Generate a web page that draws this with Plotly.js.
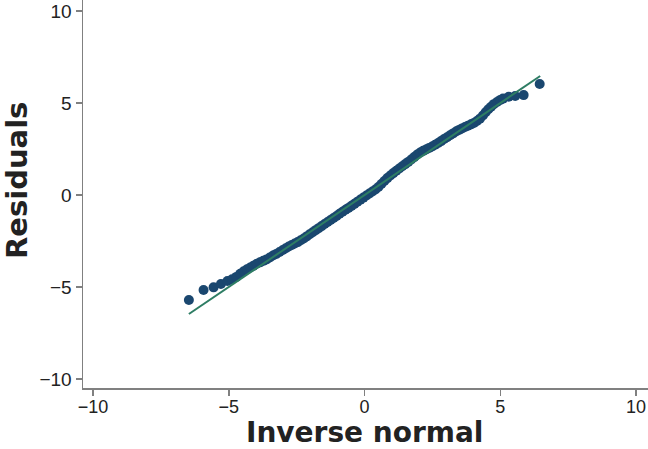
<!DOCTYPE html>
<html>
<head>
<meta charset="utf-8">
<script src="https://cdn.plot.ly/plotly-3.0.1.min.js"></script>
<style>html,body{margin:0;padding:0;background:#fff;}#chart{width:648px;height:449px;}</style>
</head>
<body>
<div id="chart"></div>
<script>
// Inverse normal quantiles (x) and sorted residuals (y)
var invNormal = [-6.47,-5.93,-5.56,-5.29,-5.05,-4.88,-4.72,-4.58,-4.45,-4.33,-4.21,-4.09,-3.97,-3.85,-3.73,-3.61,-3.49,-3.37,-3.25,-3.13,-3.01,-2.90,-2.79,-2.68,-2.57,-2.46,-2.35,-2.24,-2.13,-2.02,-1.91,-1.80,-1.69,-1.58,-1.47,-1.36,-1.25,-1.14,-1.03,-0.92,-0.81,-0.70,-0.59,-0.48,-0.37,-0.26,-0.15,-0.04,0.07,0.18,0.29,0.40,0.51,0.62,0.73,0.84,0.95,1.06,1.17,1.28,1.39,1.50,1.61,1.72,1.83,1.94,2.05,2.16,2.27,2.38,2.49,2.60,2.71,2.82,2.93,3.04,3.15,3.26,3.37,3.48,3.59,3.70,3.81,3.92,4.03,4.14,4.25,4.36,4.46,4.56,4.66,4.76,4.88,5.00,5.10,5.31,5.55,5.86,6.45];
var residuals = [-5.71,-5.16,-5.02,-4.84,-4.67,-4.58,-4.45,-4.28,-4.14,-4.04,-3.94,-3.84,-3.74,-3.66,-3.58,-3.50,-3.40,-3.29,-3.20,-3.10,-2.99,-2.89,-2.80,-2.72,-2.64,-2.56,-2.46,-2.36,-2.25,-2.13,-2.02,-1.91,-1.80,-1.69,-1.58,-1.47,-1.36,-1.25,-1.14,-1.02,-0.91,-0.80,-0.70,-0.59,-0.48,-0.36,-0.25,-0.14,-0.03,0.08,0.19,0.30,0.44,0.60,0.76,0.92,1.06,1.19,1.32,1.44,1.56,1.68,1.80,1.93,2.06,2.20,2.31,2.40,2.48,2.56,2.64,2.73,2.83,2.93,3.04,3.14,3.25,3.35,3.45,3.54,3.62,3.70,3.77,3.84,3.92,4.02,4.15,4.32,4.50,4.66,4.80,4.94,5.06,5.17,5.24,5.34,5.38,5.43,6.03];
// Reference line
var refX = [-6.47, 6.47];
var refY = [-6.47, 6.47];
var tickVals = [-10, -5, 0, 5, 10];
var tickText = ["\u221210", "\u22125", "0", "5", "10"];
var xTitle = "Inverse normal";
var yTitle = "Residuals";

var fam = "Liberation Sans, Arial, sans-serif";
var axisFont = {family: fam, size: 19, color: "#222"};
var xTickFont = {family: fam, size: 18, color: "#222"};
var titleFont = {family: "DejaVu Sans, sans-serif", size: 29, color: "#222", weight: "bold"};
var xTitleFont = {family: "DejaVu Sans, sans-serif", size: 28, color: "#222", weight: "bold"};

var traces = [
  {x: invNormal, y: residuals, type: "scatter", mode: "markers",
   marker: {size: 10, color: "#1a476f"}, hoverinfo: "x+y"},
  {x: refX, y: refY, type: "scatter", mode: "lines",
   line: {color: "#2e7d64", width: 2}}
];

var axisCommon = {
  tickvals: tickVals, ticktext: tickText,
  showgrid: false, zeroline: false, showline: true, linecolor: "#808080", linewidth: 1.5,
  ticks: "outside", ticklen: 6, tickcolor: "#808080", tickwidth: 1.5,
  tickfont: axisFont
};

var layout = {
  width: 648, height: 449,
  margin: {l: 83, r: 0, t: 0, b: 61},
  paper_bgcolor: "#fff", plot_bgcolor: "#fff",
  showlegend: false,
  xaxis: Object.assign({}, axisCommon, {range: [-10.37, 10.44], ticklabelstandoff: -4, tickfont: xTickFont}),
  yaxis: Object.assign({range: [-10.49, 10.6]}, axisCommon),
  annotations: [
    {text: "<b>" + xTitle + "</b>", xref: "paper", yref: "paper", x: 0.4982, y: -0.1139,
     xanchor: "center", yanchor: "middle", showarrow: false, borderpad: 0, font: xTitleFont},
    {text: "<b>" + yTitle + "</b>", xref: "paper", yref: "paper", x: -0.1168, y: 0.5335,
     xanchor: "center", yanchor: "middle", textangle: -90, showarrow: false, borderpad: 0, font: titleFont}
  ]
};
Plotly.newPlot("chart", traces, layout, {displayModeBar: false, staticPlot: true});
</script>
</body>
</html>
